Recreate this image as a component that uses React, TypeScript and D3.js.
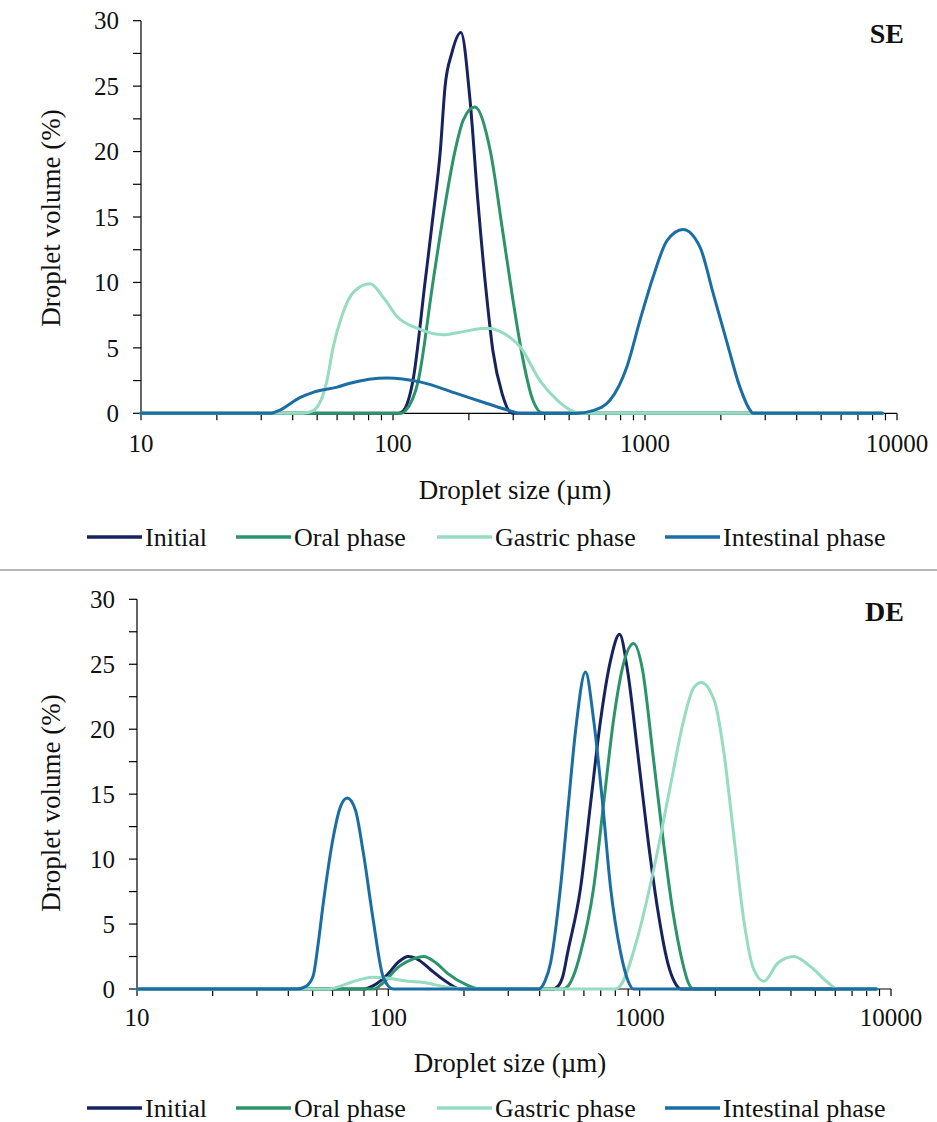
import React from "react";
import * as d3 from "d3";

// Droplet size distributions: [size (µm), volume (%)]
const seInitial: [number, number][] = [
  [10, 0], [105, 0], [110, 0.2], [120, 2.5], [134, 10], [144, 15], [154, 20], [161, 25],
  [171, 27.5], [186, 29.1], [202, 24], [217, 16.3], [236, 8.7], [249, 4.8], [271, 1.5],
  [291, 0.1], [300, 0], [8750, 0],
];
const seOral: [number, number][] = [
  [10, 0], [108, 0], [112, 0.2], [126, 2.5], [144, 10], [158, 15], [176, 20], [190, 22.4],
  [211, 23.4], [243, 20.1], [273, 13.8], [299, 8.7], [328, 4.1], [359, 1], [394, 0], [8750, 0],
];
const seGastric: [number, number][] = [
  [10, 0], [44, 0], [48.2, 0.2], [54.7, 2.5], [57.8, 5], [62.8, 7.5], [70, 9.3], [81.1, 9.9],
  [92, 8.8], [103.7, 7.4], [124.5, 6.5], [158, 6.0], [184.5, 6.2], [236, 6.5], [291, 5.8],
  [319, 5.1], [383, 2.5], [448, 1], [500, 0.3], [552, 0], [8750, 0],
];
const seIntestinal: [number, number][] = [
  [10, 0], [32.5, 0], [35.6, 0.25], [42.7, 1.2], [48.2, 1.6], [60, 2.0], [67.5, 2.3],
  [94.6, 2.7], [128, 2.4], [179.5, 1.5], [236, 0.75], [291, 0.2], [319, 0], [537, 0],
  [620, 0.2], [726, 1], [849, 3.6], [955, 7.1], [1076, 10.4], [1223, 13.2], [1415, 14.05],
  [1653, 12.7], [1862, 9.2], [2116, 5.4], [2380, 2.0], [2600, 0.3], [2685, 0], [8750, 0],
];

const deInitial: [number, number][] = [
  [10, 0], [80, 0], [88, 0.3], [99, 1.1], [110, 2.1], [120, 2.5], [133, 2.2], [147, 1.5],
  [172, 0.5], [193, 0], [450, 0], [475, 0.25], [495, 1.0], [517, 2.8], [582, 7.8], [638, 14.3],
  [699, 20.7], [766, 25.3], [832, 27.3], [895, 24.5], [982, 18.2], [1076, 11.7], [1180, 6.1],
  [1294, 2], [1380, 0.5], [1456, 0], [8750, 0],
];
const deOral: [number, number][] = [
  [10, 0], [88, 0], [93, 0.3], [111.6, 1.8], [125, 2.3], [138, 2.5], [155, 2.0], [172, 1.2],
  [206, 0.3], [233, 0], [495, 0], [520, 0.25], [545, 1.0], [582, 2.8], [656, 7.8], [719, 14.3],
  [787, 20.7], [864, 25.1], [946, 26.6], [1028, 24.5], [1127, 18.2], [1236, 11.7], [1352, 6.1],
  [1483, 2], [1560, 0.5], [1641, 0], [8750, 0],
];
const deGastric: [number, number][] = [
  [10, 0], [58, 0], [64, 0.2], [70.6, 0.5], [80, 0.8], [86.4, 0.9], [101.9, 0.8], [120, 0.6],
  [138, 0.5], [165, 0.2], [199, 0], [800, 0], [840, 0.3], [982, 4], [1137, 9.2], [1330, 15.8],
  [1497, 20.7], [1641, 23.2], [1760, 23.6], [1900, 23.0], [2010, 21.8], [2163, 18.2],
  [2372, 11.7], [2596, 5.3], [2845, 1.5], [3119, 0.6], [3548, 2], [4109, 2.5], [4800, 1.7],
  [5611, 0.5], [6151, 0], [8750, 0],
];
const deIntestinal: [number, number][] = [
  [10, 0], [43.4, 0], [47, 0.2], [50.2, 1.0], [52.6, 3.5], [55.1, 6.6], [60.4, 11.7],
  [64.4, 14], [68.6, 14.7], [73.9, 13.8], [79.5, 10.5], [87.1, 5.3], [95.5, 0.9], [104.7, 0],
  [396, 0], [420, 0.6], [442, 2.0], [484, 7.8], [521, 14.3], [556, 19.9], [609, 24.4],
  [656, 20.7], [712, 14.3], [766, 7.8], [840, 2.8], [900, 0.6], [946, 0], [8750, 0],
];

const seriesNames = ["Initial", "Oral phase", "Gastric phase", "Intestinal phase"];
const seriesColors = ["#16235f", "#2b946a", "#95dcc1", "#1a6ea4"];
const yTickValues = d3.range(0, 30.001, 2.5);
const yLabelValues = [0, 5, 10, 15, 20, 25, 30];
const xLabelValues = [10, 100, 1000, 10000];
const xDomain: [number, number] = [10, 10000];
const yDomain: [number, number] = [0, 30];

const FONT = "'Liberation Serif', 'Times New Roman', serif";

type PanelProps = {
  series: [number, number][][];
  tag: string;
  left: number;
  right: number;
  top: number;
  bottom: number;
  tickLabelY: number;
  titleY: number;
  legendY: number;
  yTitleY: number;
};

function Panel({ series, tag, left, right, top, bottom, tickLabelY, titleY, legendY, yTitleY }: PanelProps) {
  const x = d3.scaleLog().domain(xDomain).range([left, right]);
  const y = d3.scaleLinear().domain(yDomain).range([bottom, top]);
  const line = d3
    .line<[number, number]>()
    .x((d) => x(d[0]))
    .y((d) => y(d[1]))
    .curve(d3.curveMonotoneX);
  const xTicks = x.ticks();
  const legendItems = [
    { lx: 87, tx: 145 },
    { lx: 236, tx: 294 },
    { lx: 437, tx: 495 },
    { lx: 665, tx: 723 },
  ];
  return (
    <g>
      {/* axes */}
      <line x1={left} x2={left} y1={top} y2={bottom} stroke="#000" strokeWidth={1.2} />
      <line x1={left} x2={right} y1={bottom} y2={bottom} stroke="#000" strokeWidth={1.2} />
      {yTickValues.map((v) => (
        <line key={"yt" + v} x1={left - 8} x2={left} y1={y(v)} y2={y(v)} stroke="#000" strokeWidth={1.2} />
      ))}
      {yLabelValues.map((v) => (
        <text
          key={"yl" + v}
          x={left - 22}
          y={y(v)}
          dy="0.35em"
          textAnchor="end"
          fontSize={25}
          fontFamily={FONT}
          fill="#111"
        >
          {v}
        </text>
      ))}
      {xTicks.map((v, i) => (
        <line key={"xt" + i} x1={x(v)} x2={x(v)} y1={bottom} y2={bottom + 7} stroke="#000" strokeWidth={1.2} />
      ))}
      {xLabelValues.map((v) => (
        <text
          key={"xl" + v}
          x={x(v)}
          y={tickLabelY}
          dy="0.35em"
          textAnchor="middle"
          fontSize={25}
          fontFamily={FONT}
          fill="#111"
        >
          {v}
        </text>
      ))}
      <text
        x={(left + right) / 2 - 4}
        y={titleY}
        dy="0.35em"
        textAnchor="middle"
        fontSize={27}
        fontFamily={FONT}
        fill="#111"
      >
        Droplet size (µm)
      </text>
      <text
        transform={`translate(51,${yTitleY}) rotate(-90)`}
        dy="0.35em"
        textAnchor="middle"
        fontSize={27}
        fontFamily={FONT}
        fill="#111"
      >
        Droplet volume (%)
      </text>
      <text
        x={904}
        y={top + 22}
        textAnchor="end"
        fontSize={28}
        fontWeight="bold"
        fontFamily={FONT}
        fill="#111"
      >
        {tag}
      </text>
      {/* distributions */}
      {series.map((s, i) => (
        <path
          key={"s" + i}
          d={line(s) || ""}
          fill="none"
          stroke={seriesColors[i]}
          strokeWidth={3}
          strokeLinejoin="round"
          strokeLinecap="round"
        />
      ))}
      {/* legend */}
      {legendItems.map((it, i) => (
        <g key={"lg" + i}>
          <line x1={it.lx} x2={it.lx + 55} y1={legendY} y2={legendY} stroke={seriesColors[i]} strokeWidth={3.5} />
          <text x={it.tx} y={legendY} dy="0.35em" fontSize={26} fontFamily={FONT} fill="#111">
            {seriesNames[i]}
          </text>
        </g>
      ))}
    </g>
  );
}

export default function App() {
  return (
    <svg
      width={937}
      height={1122}
      viewBox="0 0 937 1122"
      style={{ position: "absolute", left: 0, top: 0, background: "#fff" }}
    >
      <rect x={0} y={0} width={937} height={1122} fill="#fff" />
      <Panel
        series={[seInitial, seOral, seGastric, seIntestinal]}
        tag="SE"
        left={141}
        right={897}
        top={20.7}
        bottom={413.3}
        tickLabelY={443}
        titleY={490}
        legendY={537}
        yTitleY={218}
      />
      <line x1={0} x2={937} y1={570} y2={570} stroke="#b5b5b5" strokeWidth={2} />
      <Panel
        series={[deInitial, deOral, deGastric, deIntestinal]}
        tag="DE"
        left={137}
        right={891}
        top={599.3}
        bottom={989}
        tickLabelY={1017}
        titleY={1063}
        legendY={1108}
        yTitleY={803}
      />
    </svg>
  );
}
